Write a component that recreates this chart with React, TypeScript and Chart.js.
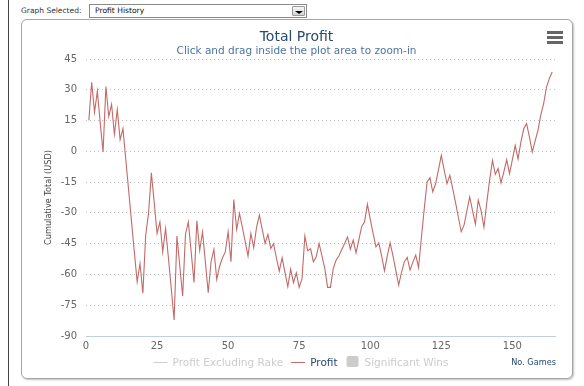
import React, { useEffect, useRef } from 'react';
import { Chart, registerables } from 'chart.js';

Chart.register(...registerables);

// ---- data ----
const profit: number[] = [
  15.1, 33.7, 19.1, 29.3, 14, -0.3, 31.6, 17, 22.9, 8.3,
  20.3, 5.7, 11, -4, -19, -34, -49, -63.6, -54.7, -69.2,
  -40.9, -30.3, -10.5, -25, -40, -34.4, -49, -37.6, -52, -67,
  -82.2, -41.3, -56, -70.5, -40.4, -34.4, -49, -63.9, -33.9, -48.2,
  -39.3, -54, -68.9, -53.8, -47.8, -62.4, -56, -52, -49, -39.2,
  -53.8, -23.5, -38.1, -30.3, -37, -44, -51, -40, -47, -37,
  -31.1, -38, -44.9, -40.5, -47.3, -45, -52, -58.4, -51.9, -59,
  -66, -57.4, -64, -59.2, -66.3, -62, -41.3, -48.5, -47.5, -53.8,
  -51.4, -44.9, -51, -57, -66.3, -66.3, -57, -53, -50.9, -47.8,
  -44.9, -41.7, -47.8, -43.3, -49.5, -43, -36.6, -34.4, -25.8, -33,
  -40, -46.6, -44.6, -51, -58.2, -51, -44.6, -51, -58, -65.2,
  -59, -53.8, -51.7, -57.9, -54, -50.6, -56.6, -42, -28, -14.9,
  -12.8, -19.8, -15.8, -9, -2, -9, -15.8, -11.7, -18, -25,
  -32, -39.2, -36, -29, -22.2, -29, -35.5, -23.8, -29, -37,
  -25, -14, -4.4, -11.2, -8.4, -15.4, -10, -4, -10.9, -4,
  2.9, -3.7, 4.5, 11, 13.5, 7, -0.3, 5, 10.2, 17.6,
  23.2, 31.3, 35.4, 38.7,
];
const firstGame = 1;
const xTicks: number[] = [0, 25, 50, 75, 100, 125, 150];
const yTicks: number[] = [-90, -75, -60, -45, -30, -15, 0, 15, 30, 45];
const xMin = 0;
const xMax = 165;
const yMin = -90;
const yMax = 45;

const legendNames: string[] = ['Profit Excluding Rake', 'Profit', 'Significant Wins'];
const legendVisible: boolean[] = [false, true, false];
const legendKinds: string[] = ['line', 'line', 'box'];

const titleText = 'Total Profit';
const subtitleText = 'Click and drag inside the plot area to zoom-in';
const yTitle = 'Cumulative Total (USD)';
const xTitle = 'No. Games';
const selectLabel = 'Graph Selected:';
const selectValue = 'Profit History';

const FONT = '"DejaVu Sans", Verdana, sans-serif';
const SERIES_COLOR = '#C26A68';

const overlayPlugin = {
  id: 'overlay',
  afterDraw(chart: any) {
    const ctx: CanvasRenderingContext2D = chart.ctx;
    const area = chart.chartArea;
    const cx = chart.width / 2;
    ctx.save();

    // title + subtitle
    ctx.textAlign = 'center';
    ctx.textBaseline = 'alphabetic';
    ctx.fillStyle = '#274b6d';
    ctx.font = `14px ${FONT}`;
    ctx.fillText(titleText, cx, 21);
    ctx.fillStyle = '#4d759e';
    ctx.font = `10.5px ${FONT}`;
    ctx.fillText(subtitleText, cx, 34);

    // y axis title
    ctx.save();
    ctx.translate(26.5, (area.top + area.bottom) / 2);
    ctx.rotate(-Math.PI / 2);
    ctx.fillStyle = '#444';
    ctx.font = `8.2px ${FONT}`;
    ctx.textAlign = 'center';
    ctx.textBaseline = 'middle';
    ctx.fillText(yTitle, 0, 0);
    ctx.restore();

    // x axis title
    ctx.fillStyle = '#274b6d';
    ctx.font = `8.2px ${FONT}`;
    ctx.textAlign = 'right';
    ctx.textBaseline = 'alphabetic';
    ctx.fillText(xTitle, area.right + 1, 345);

    // legend
    ctx.font = `10.5px ${FONT}`;
    const symW = 14;
    const gapSym = 5;
    const gapItem = 8;
    const widths = legendNames.map((n) => ctx.measureText(n).width);
    let total = 0;
    widths.forEach((w, i) => {
      total += symW + gapSym + w + (i < widths.length - 1 ? gapItem : 0);
    });
    let x = 279 - total / 2;
    const ly = 342;
    legendNames.forEach((name, i) => {
      const on = legendVisible[i];
      const col = on ? SERIES_COLOR : '#cccccc';
      if (legendKinds[i] === 'line') {
        ctx.strokeStyle = col;
        ctx.lineWidth = 1;
        ctx.beginPath();
        ctx.moveTo(x, ly + 0.5);
        ctx.lineTo(x + symW, ly + 0.5);
        ctx.stroke();
      } else {
        ctx.fillStyle = '#cccccc';
        const bx = x + 1, by = ly - 6, bw = 12, bh = 11, r = 2;
        ctx.beginPath();
        ctx.moveTo(bx + r, by);
        ctx.lineTo(bx + bw - r, by);
        ctx.quadraticCurveTo(bx + bw, by, bx + bw, by + r);
        ctx.lineTo(bx + bw, by + bh - r);
        ctx.quadraticCurveTo(bx + bw, by + bh, bx + bw - r, by + bh);
        ctx.lineTo(bx + r, by + bh);
        ctx.quadraticCurveTo(bx, by + bh, bx, by + bh - r);
        ctx.lineTo(bx, by + r);
        ctx.quadraticCurveTo(bx, by, bx + r, by);
        ctx.fill();
      }
      x += symW + gapSym;
      ctx.fillStyle = on ? '#274b6d' : '#cccccc';
      ctx.textAlign = 'left';
      ctx.textBaseline = 'alphabetic';
      ctx.fillText(name, x, ly + 4);
      x += widths[i] + gapItem;
    });

    // export menu icon
    ctx.fillStyle = '#666';
    const mx = 525;
    [11, 16, 21].forEach((yy) => {
      ctx.fillRect(mx, yy, 16, 3);
    });

    ctx.restore();
  },
};

export default function App() {
  const canvasRef = useRef<HTMLCanvasElement | null>(null);

  useEffect(() => {
    const canvas = canvasRef.current;
    if (!canvas) return;
    const points = profit.map((v, i) => ({ x: firstGame + i, y: v }));
    const chart = new Chart(canvas, {
      type: 'line',
      data: {
        datasets: [
          {
            label: 'Profit',
            data: points,
            borderColor: SERIES_COLOR,
            borderWidth: 1.1,
            pointRadius: 0,
            tension: 0,
            fill: false,
          },
        ],
      },
      options: {
        responsive: false,
        animation: false,
        devicePixelRatio: 1,
        layout: { padding: { top: 39, right: 16, left: 0, bottom: 0 } },
        plugins: {
          legend: { display: false },
          title: { display: false },
          tooltip: { enabled: false },
        },
        scales: {
          x: {
            type: 'linear',
            min: xMin,
            max: xMax,
            afterBuildTicks: (s: any) => {
              s.ticks = xTicks.map((v) => ({ value: v }));
            },
            afterFit: (s: any) => {
              s.height = 41;
            },
            grid: { display: true, drawOnChartArea: false, drawTicks: false, color: 'rgba(0,0,0,0)' },
            border: { display: true, color: '#C0D0E0', width: 1 },
            ticks: {
              padding: 4,
              color: '#666',
              font: { family: FONT, size: 10 },
              maxRotation: 0,
              autoSkip: false,
            },
          },
          y: {
            type: 'linear',
            min: yMin,
            max: yMax,
            afterBuildTicks: (s: any) => {
              s.ticks = yTicks.map((v) => ({ value: v }));
            },
            afterFit: (s: any) => {
              s.width = 64;
            },
            grid: { color: '#bdbdbd', drawTicks: false, lineWidth: 1 },
            border: { display: false, dash: [1, 3] },
            ticks: {
              padding: 9,
              color: '#666',
              font: { family: FONT, size: 10 },
              autoSkip: false,
            },
          },
        },
      },
      plugins: [overlayPlugin],
    });
    return () => chart.destroy();
  }, []);

  return (
    <div
      style={{
        position: 'absolute',
        left: 0,
        top: 0,
        width: 584,
        height: 386,
        overflow: 'hidden',
        background: '#fff',
        fontFamily: FONT,
      }}
    >
      <div style={{ position: 'absolute', left: 8, top: 0, width: 1, height: 386, background: '#444' }} />
      <div
        style={{
          position: 'absolute',
          left: 21,
          top: 5,
          fontSize: 7.5,
          lineHeight: '12px',
          color: '#333',
          whiteSpace: 'nowrap',
        }}
      >
        {selectLabel}
      </div>
      <div
        style={{
          position: 'absolute',
          left: 89,
          top: 4,
          width: 216,
          height: 12,
          border: '1px solid #8a8a8a',
          background: '#fff',
        }}
      >
        <div
          style={{
            position: 'absolute',
            left: 5,
            top: 0,
            fontSize: 7.6,
            lineHeight: '12px',
            color: '#111',
            whiteSpace: 'nowrap',
          }}
        >
          {selectValue}
        </div>
        <div
          style={{
            position: 'absolute',
            right: 1,
            top: 1,
            width: 13,
            height: 10,
            border: '1px solid #9a9a9a',
            borderRadius: 1,
            background: 'linear-gradient(#f6f6f6, #d6d6d6)',
            boxSizing: 'border-box',
          }}
        >
          <div
            style={{
              position: 'absolute',
              left: 2,
              bottom: 1,
              width: 0,
              height: 0,
              borderLeft: '4px solid transparent',
              borderRight: '4px solid transparent',
              borderTop: '3px solid #000',
            }}
          />
        </div>
      </div>
      <div
        style={{
          position: 'absolute',
          left: 21,
          top: 19,
          width: 550,
          height: 358,
          border: '1px solid #a6a6a6',
          borderRadius: 6,
          boxShadow: '1px 1px 2px rgba(0,0,0,0.25)',
          background: '#fff',
        }}
      />
      <canvas
        ref={canvasRef}
        width={549}
        height={357}
        style={{ position: 'absolute', left: 22, top: 20, width: 549, height: 357 }}
      />
    </div>
  );
}
